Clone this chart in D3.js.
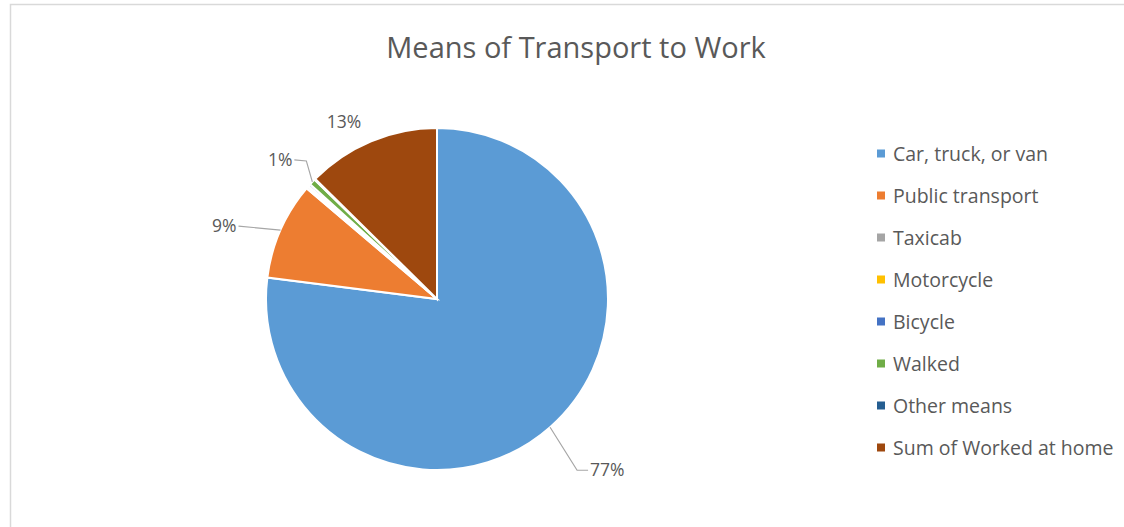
<!DOCTYPE html>
<html>
<head>
<meta charset="utf-8">
<script src="https://cdn.jsdelivr.net/npm/d3@7"></script>
<style>
  body { margin: 0; background: #fff; }
  text { font-family: "Open Sans", "Lato", sans-serif; fill: #595959; }
</style>
</head>
<body>
<div id="chart"></div>
<script>
var width = 1124;
var height = 527;

// data
var categories = ["Car, truck, or van", "Public transport", "Taxicab", "Motorcycle",
                  "Bicycle", "Walked", "Other means", "Sum of Worked at home"];
var shares = [77.0, 9.2, 0.2, 0.1, 0.2, 0.6, 0.1, 12.6];
var colors = ["#5B9BD5", "#ED7D31", "#A5A5A5", "#FFC000",
              "#4472C4", "#70AD47", "#255E91", "#9E480E"];

// leader line bends, relative to the point on the rim (null = no line)
var leaders = {
  0: [[27, 43], [38, 43]],
  1: [[-42, -4]],
  5: [[-6, -21], [-18, -22]],
  7: null
};

var cx = 437, cy = 299, r = 171;

var svg = d3.select("#chart")
  .append("svg")
    .attr("width", width)
    .attr("height", height);

// outer frame
svg.append("rect")
  .attr("x", 10.5).attr("y", 4.5)
  .attr("width", 1130).attr("height", 540)
  .style("fill", "none")
  .style("stroke", "#d9d9d9")
  .style("stroke-width", 1.5);

svg.append("text") // title
  .attr("x", 576)
  .attr("y", 58)
  .attr("text-anchor", "middle")
  .attr("font-size", 29)
  .text("Means of Transport to Work");

var pie = d3.pie().sort(null).value(function(d){ return d; });
var arcs = pie(shares);
var arc = d3.arc().innerRadius(0).outerRadius(r);

var g = svg.append("g").attr("transform", "translate(" + cx + "," + cy + ")");

g.selectAll("path")
  .data(arcs)
  .enter()
  .append("path")
    .attr("d", arc)
    .style("fill", function(d, i){ return colors[i]; })
    .style("stroke", "#fff")
    .style("stroke-width", 2);

// data labels
var total = d3.sum(shares);
var fmt = function(v){ return Math.round(v / total * 100) + "%"; };

arcs.forEach(function(d, i) {
  if (Math.round(d.value / total * 100) < 1) return;
  var a = (d.startAngle + d.endAngle) / 2;
  var ex = Math.sin(a) * r, ey = -Math.cos(a) * r;
  var lead = leaders[i];
  if (lead) {
    var pts = [[ex, ey]].concat(lead.map(function(p){ return [ex + p[0], ey + p[1]]; }));
    g.append("path")
      .attr("d", d3.line()(pts))
      .style("fill", "none")
      .style("stroke", "#a6a6a6")
      .style("stroke-width", 1.2);
    var last = pts[pts.length - 1];
    var left = last[0] < 0;
    g.append("text")
      .attr("x", last[0] + (left ? -2 : 2))
      .attr("y", last[1] + 6)
      .attr("text-anchor", left ? "end" : "start")
      .attr("font-size", 17.5)
      .text(fmt(d.value));
  } else {
    g.append("text")
      .attr("x", ex - 27)
      .attr("y", ey - 13)
      .attr("text-anchor", "middle")
      .attr("font-size", 17.5)
      .text(fmt(d.value));
  }
});

// legend
var legend = svg.selectAll(".leg")
  .data(categories)
  .enter()
  .append("g")
    .attr("transform", function(d, i){ return "translate(877," + (153.5 + i * 42) + ")"; });

legend.append("rect")
  .attr("x", 0).attr("y", -4)
  .attr("width", 8).attr("height", 8)
  .style("fill", function(d, i){ return colors[i]; });

legend.append("text")
  .attr("x", 16)
  .attr("y", 7)
  .attr("font-size", 19.5)
  .text(function(d){ return d; });
</script>
</body>
</html>
